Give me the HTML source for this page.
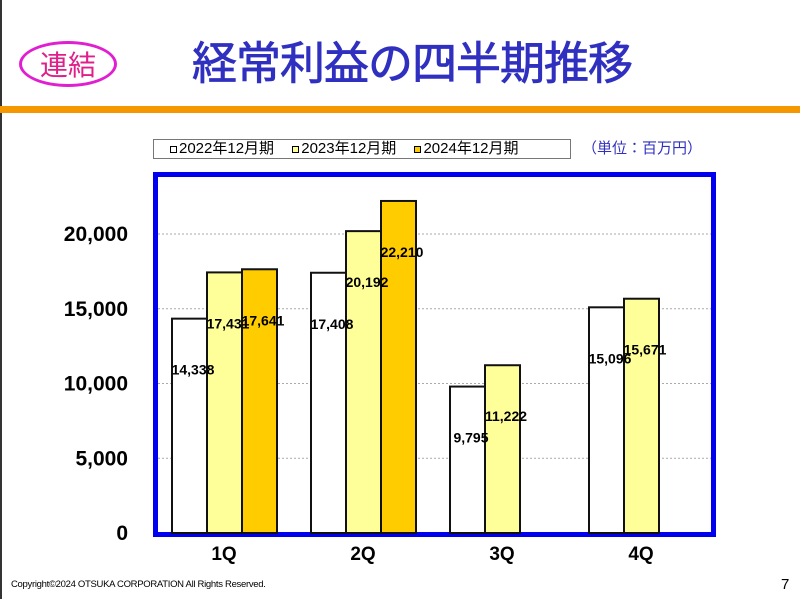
<!DOCTYPE html>
<html><head><meta charset="utf-8"><style>
body{margin:0;width:800px;height:599px;background:#fff;overflow:hidden;position:relative;font-family:"Liberation Sans","Noto Sans CJK JP",sans-serif}
.abs{position:absolute}
</style></head><body>
<div class="abs" style="left:0;top:0;width:2px;height:599px;background:#333"></div>
<div class="abs" style="left:19px;top:41px;width:92px;height:40px;border:3px solid #e020d0;border-radius:50%;color:#e0208a;font-size:28px;line-height:40px;text-align:center;font-family:'Noto Sans CJK JP',sans-serif">連結</div>
<div class="abs" style="left:192px;top:30px;color:#3030c0;font-size:45px;font-weight:normal;-webkit-text-stroke:0.8px #3030c0;font-family:'Noto Sans CJK JP',sans-serif;line-height:60px;letter-spacing:-1px">経常利益の四半期推移</div>
<div class="abs" style="left:0;top:106px;width:800px;height:7px;background:#f59800"></div>
<div class="abs" style="left:153px;top:139px;width:416px;height:18px;border:1px solid #777;font-size:15px;line-height:18px;white-space:nowrap;font-family:'Liberation Sans','Noto Sans CJK JP',sans-serif">
<span style="margin-left:16px"><span style="display:inline-block;width:5px;height:5px;border:1.5px solid #000;background:#fff;margin-right:2px"></span>2022年12月期</span>
<span style="margin-left:14px"><span style="display:inline-block;width:5px;height:5px;border:1.5px solid #000;background:#ffff99;margin-right:2px"></span>2023年12月期</span>
<span style="margin-left:14px"><span style="display:inline-block;width:5px;height:5px;border:1.5px solid #000;background:#ffcc00;margin-right:2px"></span>2024年12月期</span>
</div>
<div class="abs" style="left:582px;top:137px;color:#3030c0;font-size:15px;line-height:22px;font-family:'Noto Sans CJK JP',sans-serif">（単位：百万円）</div>
<svg id="chart" class="abs" style="left:0;top:0" width="800" height="599"></svg>
<div class="abs" style="left:11px;top:579px;font-size:9.5px;letter-spacing:-0.3px">Copyright©2024 OTSUKA CORPORATION All Rights Reserved.</div>
<div class="abs" style="left:781px;top:576px;font-size:15px">7</div>
<script>
const categories=["1Q","2Q","3Q","4Q"];
const s2022=[14338,17408,9795,15096];
const s2023=[17431,20192,11222,15671];
const s2024=[17641,22210,null,null];
const yTicks=[0,5000,10000,15000,20000];
const yTickLabels=["0","5,000","10,000","15,000","20,000"];
const seriesList=[s2022,s2023,s2024];
const colors=["#ffffff","#ffff99","#ffcc00"];
const NS="http://www.w3.org/2000/svg";
const svg=document.getElementById('chart');
const y=v=>533-v*(299/20000);
const x0=i=>172+i*139;
function mk(t,a){const e=document.createElementNS(NS,t);for(const k in a)e.setAttribute(k,a[k]);svg.appendChild(e);return e;}
yTicks.forEach((t,i)=>{
  if(t>0){const l=mk('line',{x1:158,x2:711,y1:y(t),y2:y(t),stroke:'#aaa','stroke-dasharray':'2,2'});
  
  }
  const tx=mk('text',{x:128,y:y(t)+7,'text-anchor':'end','font-size':21,'font-weight':'bold','font-family':'Liberation Sans'});
  tx.textContent=yTickLabels[i];
  
  
});
const frame=mk('rect',{x:155.5,y:174.5,width:558,height:360,fill:'none',stroke:'#0000ee','stroke-width':5});


categories.forEach((c,i)=>{
  seriesList.forEach((s,j)=>{
    const v=s[i]; if(v==null) return;
    const bx=x0(i)+j*35;
    const r=mk('rect',{x:bx,y:y(v),width:35,height:533-y(v),fill:colors[j],stroke:'#111','stroke-width':2});
    
    
  });
  seriesList.forEach((s,j)=>{
    const v=s[i]; if(v==null) return;
    const bx=x0(i)+j*35;
    const t=mk('text',{x:bx+21,y:y(v)+56,'text-anchor':'middle','font-size':14,'font-weight':'bold','font-family':'Liberation Sans'});
    t.textContent=v.toLocaleString('en-US');
    
    
  });
  const ct=mk('text',{x:x0(i)+52,y:560,'text-anchor':'middle','font-size':19,'font-weight':'bold','font-family':'Liberation Sans'});
  ct.textContent=c;
  
  
});
</script>
</body></html>
